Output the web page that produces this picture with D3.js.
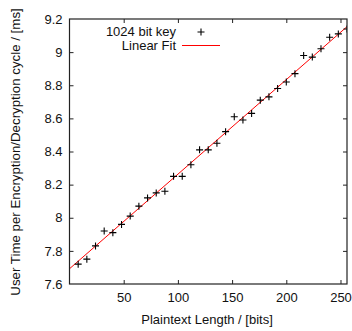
<!DOCTYPE html>
<html>
<head>
<meta charset="utf-8">
<script src="https://cdn.jsdelivr.net/npm/d3@7"></script>
<style>
  body { margin: 0; background: #fff; }
  text { font-family: "Liberation Sans", Arial, sans-serif; }
</style>
</head>
<body>
<script>
// plaintext length (bits) and user time (ms)
let lengths = [8, 16, 24, 32, 40, 48, 56, 64, 72, 80, 88, 96, 104, 112, 120, 128,
  136, 144, 152, 160, 168, 176, 184, 192, 200, 208, 216, 224, 232, 240, 248, 256];
let times = [7.72, 7.75, 7.83, 7.92, 7.91, 7.96, 8.01, 8.07, 8.12, 8.15, 8.16, 8.25,
  8.25, 8.32, 8.41, 8.41, 8.45, 8.52, 8.61, 8.59, 8.63, 8.71, 8.73, 8.78,
  8.82, 8.87, 8.98, 8.97, 9.02, 9.09, 9.11, 9.14];
// linear fit: time = fitIntercept + fitSlope * length
let fitIntercept = 7.692;
let fitSlope = 0.00571;
let xTicks = [50, 100, 150, 200, 250];
let yTicks = [7.6, 7.8, 8, 8.2, 8.4, 8.6, 8.8, 9, 9.2];
let legendLabels = ['1024 bit key', 'Linear Fit'];

let width = 352, height = 331;
let margin = {left: 69.5, right: 5, top: 19, bottom: 47};
let svg = d3.select('body').append('svg').attr('width', width).attr('height', height);

let x = d3.scaleLinear().domain([0, 256]).range([margin.left, width - margin.right]);
let y = d3.scaleLinear().domain([7.6, 9.2]).range([height - margin.bottom, margin.top]);

let tickLen = 4;
let axisColor = '#222';
let fs = '13px';

// ticks (mirrored, pointing inward)
function styleAxis(g) {
  g.select('.domain').remove();
  g.selectAll('.tick line').attr('stroke', axisColor);
  g.selectAll('.tick text').attr('font-size', fs).attr('fill', '#111')
    .attr('font-family', '"Liberation Sans", Arial, sans-serif');
}
svg.append('g').attr('transform', 'translate(0,' + y.range()[0] + ')')
  .call(d3.axisBottom(x).tickValues(xTicks).tickSizeInner(-tickLen).tickSizeOuter(0).tickPadding(9).tickFormat(d3.format('d')))
  .call(styleAxis);
svg.append('g').attr('transform', 'translate(0,' + y.range()[1] + ')')
  .call(d3.axisTop(x).tickValues(xTicks).tickSizeInner(-tickLen).tickSizeOuter(0).tickFormat(''))
  .call(styleAxis);
svg.append('g').attr('transform', 'translate(' + x.range()[0] + ',0)')
  .call(d3.axisLeft(y).tickValues(yTicks.slice(1, -1)).tickSizeInner(-tickLen).tickSizeOuter(0).tickFormat(''))
  .call(styleAxis);
svg.append('g').attr('transform', 'translate(' + x.range()[0] + ',0)')
  .call(d3.axisLeft(y).tickValues(yTicks).tickSize(0).tickPadding(7).tickFormat(d => d3.format('')(+d.toFixed(1))))
  .call(styleAxis);
svg.append('g').attr('transform', 'translate(' + x.range()[1] + ',0)')
  .call(d3.axisRight(y).tickValues(yTicks.slice(1, -1)).tickSizeInner(-tickLen).tickSizeOuter(0).tickFormat(''))
  .call(styleAxis);

// clip for plot
svg.append('clipPath').attr('id', 'plot').append('rect')
  .attr('x', x.range()[0]).attr('y', y.range()[1])
  .attr('width', x.range()[1] - x.range()[0]).attr('height', y.range()[0] - y.range()[1]);

// fit line
let fitLine = d3.line().x(d => x(d)).y(d => y(fitIntercept + fitSlope * d));
svg.append('path').datum([0, 256]).attr('d', fitLine)
  .attr('fill', 'none').attr('stroke', '#ff0000').attr('stroke-width', 1)
  .attr('clip-path', 'url(#plot)');

// points
let pts = lengths.map((l, i) => ({x: l, y: times[i]}));
let plus = 3.5;
function drawPlus(g, cx, cy) {
  g.append('path')
    .attr('d', 'M' + (cx - plus) + ',' + cy + 'H' + (cx + plus) + 'M' + cx + ',' + (cy - plus) + 'V' + (cy + plus))
    .attr('stroke', '#000').attr('stroke-width', 1.1).attr('fill', 'none');
}
let ptsG = svg.append('g').attr('clip-path', 'url(#plot)');
pts.forEach(d => drawPlus(ptsG, x(d.x), y(d.y)));

// frame
svg.append('rect')
  .attr('x', x.range()[0]).attr('y', y.range()[1])
  .attr('width', x.range()[1] - x.range()[0]).attr('height', y.range()[0] - y.range()[1])
  .attr('fill', 'none').attr('stroke', axisColor).attr('stroke-width', 1.2);

// legend
let lg = svg.append('g');
lg.append('text').attr('x', 176).attr('y', 36).attr('text-anchor', 'end')
  .attr('font-size', fs).attr('fill', '#111').text(legendLabels[0]);
drawPlus(lg, 201, 32);
lg.append('text').attr('x', 176).attr('y', 50).attr('text-anchor', 'end')
  .attr('font-size', fs).attr('fill', '#111').text(legendLabels[1]);
lg.append('line').attr('x1', 182).attr('x2', 220).attr('y1', 45.5).attr('y2', 45.5)
  .attr('stroke', '#ff0000').attr('stroke-width', 1);

// axis titles
svg.append('text').attr('x', 207).attr('y', 324)
  .attr('text-anchor', 'middle').attr('font-size', fs).attr('fill', '#111')
  .text('Plaintext Length / [bits]');
svg.append('text').attr('transform', 'translate(20,152) rotate(-90)')
  .attr('text-anchor', 'middle').attr('font-size', '13.3px').attr('fill', '#111')
  .text('User Time per Encryption/Decryption cycle / [ms]');
</script>
</body>
</html>
